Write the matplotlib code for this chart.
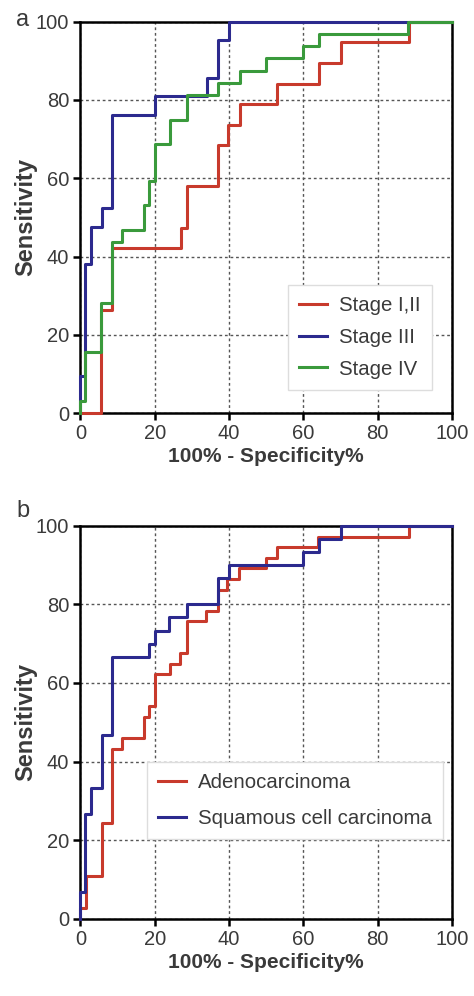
import matplotlib

matplotlib.use("Agg")
import matplotlib.pyplot as plt

plt.rcParams["font.family"] = ["Liberation Sans", "DejaVu Sans"]

# panel a: ROC corner points (x = 100% - specificity, y = sensitivity)
stage12_x = [0, 5.5, 8.4, 27.2, 28.6, 37.1, 39.8, 42.9, 53.0, 64.2, 70.0, 88.4, 100]
stage12_y = [0, 26.3, 42.1, 47.4, 57.9, 68.4, 73.7, 78.9, 84.2, 89.5, 94.7, 100, 100]

stage3_x = [0, 0, 1.2, 2.85, 5.7, 8.4, 20.0, 34.1, 36.9, 39.9, 100]
stage3_y = [0, 9.5, 38.1, 47.6, 52.4, 76.2, 81.0, 85.7, 95.2, 100, 100]

stage4_x = [0, 0, 1.2, 5.5, 8.4, 11.3, 17.1, 18.5, 20.0, 24.1, 28.6, 37.0, 42.9,
            49.9, 60.0, 64.2, 88.1, 100]
stage4_y = [0, 3.1, 15.6, 28.1, 43.8, 46.9, 53.1, 59.4, 68.8, 75.0, 81.3, 84.4,
            87.5, 90.6, 93.8, 96.9, 100, 100]

# panel b
adeno_x = [0, 0, 1.5, 5.7, 8.6, 11.3, 17.0, 18.4, 20.0, 24.1, 26.7, 28.6, 33.9,
           37.0, 39.5, 42.7, 50.0, 53.0, 64.0, 88.4, 100]
adeno_y = [0, 2.7, 10.8, 24.3, 43.2, 45.9, 51.4, 54.1, 62.2, 64.9, 67.6, 75.7,
           78.4, 83.8, 86.5, 89.2, 91.9, 94.6, 97.3, 100, 100]

squam_x = [0, 0, 1.3, 2.85, 5.7, 8.6, 18.4, 20.0, 23.9, 28.6, 37.0, 40.0, 60.0,
           64.2, 70.0, 100]
squam_y = [0, 6.7, 26.7, 33.3, 46.7, 66.7, 70.0, 73.3, 76.7, 80.0, 86.7, 90.0,
           93.3, 96.7, 100, 100]

ticks = [0, 20, 40, 60, 80, 100]
RED = "#c83a2c"
BLUE = "#2c2a8e"
GREEN = "#3a9a3c"
TXT = "#3a3a3a"
NARROW = ["Liberation Sans Narrow", "Liberation Sans", "DejaVu Sans"]


def style_axes(ax):
    ax.set_xlim(0, 100)
    ax.set_ylim(0, 100)
    ax.set_xticks(ticks)
    ax.set_yticks(ticks)
    ax.grid(True, color="#555555", linestyle=(0, (2, 2)), linewidth=1.0)
    ax.set_axisbelow(True)
    for sp in ax.spines.values():
        sp.set_linewidth(1.8)
        sp.set_color("black")
    ax.tick_params(direction="out", length=5, width=1.8, labelsize=14.5,
                   labelcolor=TXT, pad=3)
    for lab in ax.get_xticklabels() + ax.get_yticklabels():
        lab.set_family(NARROW)
    ax.set_xlabel("100% - Specificity%", fontsize=15, fontweight="bold",
                  color=TXT, labelpad=3)
    ax.set_ylabel("Sensitivity", fontsize=17, fontweight="bold", color=TXT,
                  labelpad=-1)


def add_legend(ax, anchor, spacing):
    leg = ax.legend(loc="upper left", bbox_to_anchor=anchor,
                    handlelength=1.35, handletextpad=0.6, labelspacing=spacing,
                    borderpad=0.55, fancybox=False, framealpha=1,
                    edgecolor="#dddddd", borderaxespad=0,
                    prop={"family": NARROW, "size": 14.7})
    for t in leg.get_texts():
        t.set_color(TXT)
    return leg


fig = plt.figure(figsize=(4.74, 9.96), dpi=100)
ax1 = fig.add_axes([0.1696, 0.5853, 0.7840, 0.3929])
ax2 = fig.add_axes([0.1696, 0.0778, 0.7840, 0.3941])

lw = 2.2
ax1.plot(stage12_x, stage12_y, drawstyle="steps-post", color=RED, lw=lw,
         label="Stage I,II", clip_on=False, zorder=3)
ax1.plot(stage3_x, stage3_y, drawstyle="steps-post", color=BLUE, lw=lw,
         label="Stage III", clip_on=False, zorder=3)
ax1.plot(stage4_x, stage4_y, drawstyle="steps-post", color=GREEN, lw=lw,
         label="Stage IV", clip_on=False, zorder=3)
style_axes(ax1)
add_legend(ax1, (0.559, 0.327), 0.62)

ax2.plot(adeno_x, adeno_y, drawstyle="steps-post", color=RED, lw=lw,
         label="Adenocarcinoma", clip_on=False, zorder=3)
ax2.plot(squam_x, squam_y, drawstyle="steps-post", color=BLUE, lw=lw,
         label="Squamous cell carcinoma", clip_on=False, zorder=3)
style_axes(ax2)
add_legend(ax2, (0.179, 0.40), 0.85)

fig.text(0.048, 0.980, "a", fontsize=17, color=TXT, ha="center", va="center")
fig.text(0.048, 0.487, "b", fontsize=17, color=TXT, ha="center", va="center")

fig.savefig("out.png", dpi=100)
